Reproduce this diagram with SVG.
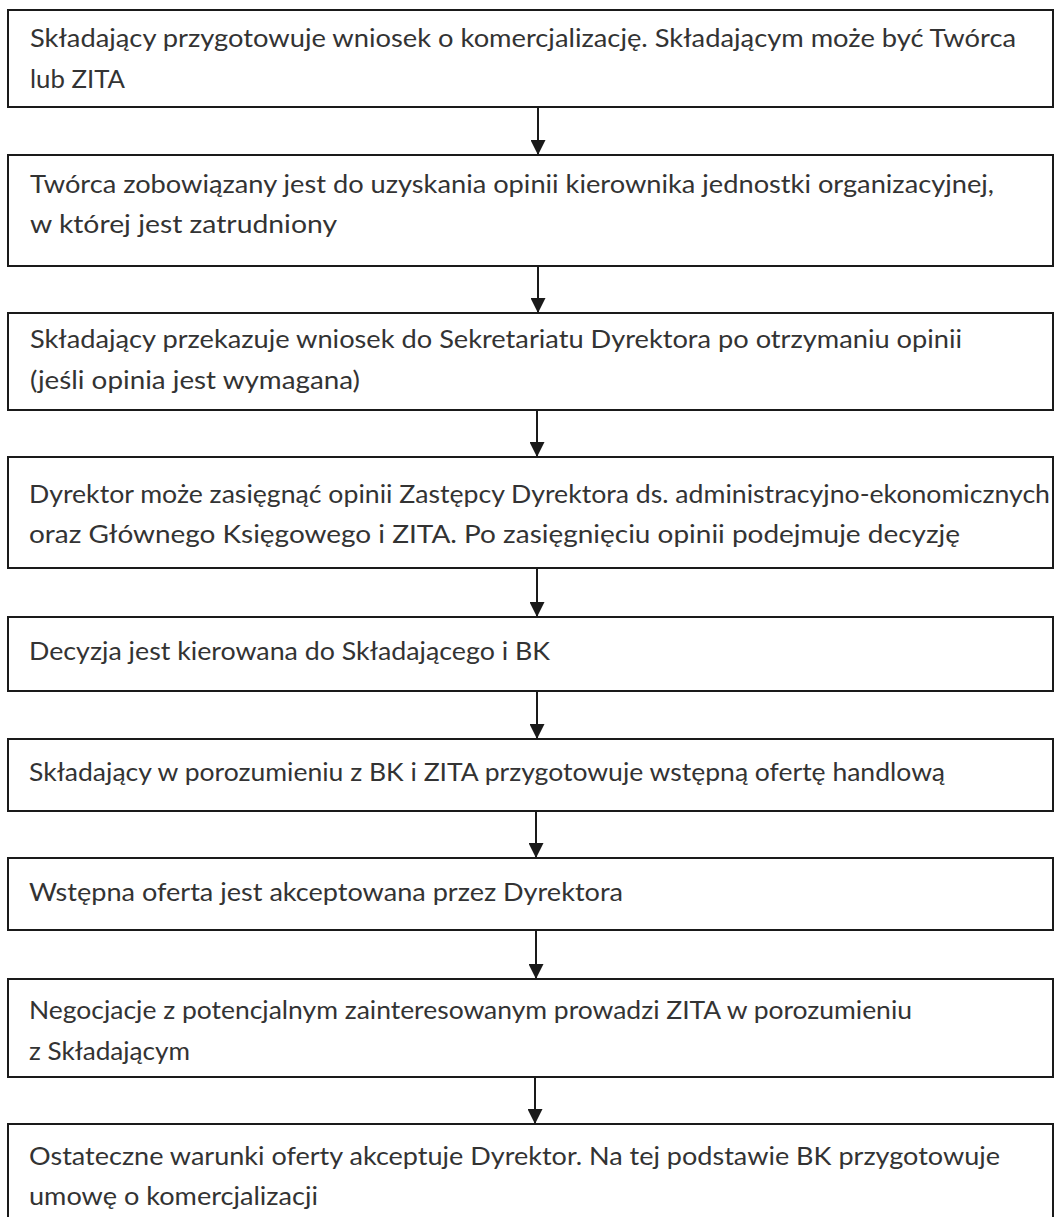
<svg xmlns="http://www.w3.org/2000/svg" width="1057" height="1217" viewBox="0 0 1057 1217">
<style>
.box{fill:#fff;stroke:#1a1a1a;stroke-width:2}
.t{font-family:Lato,"Open Sans","Liberation Sans",sans-serif;font-size:25.5px;fill:#333}
.c{stroke:#1a1a1a;stroke-width:2;fill:none}
</style>
<defs>
<marker id="ah" markerUnits="userSpaceOnUse" markerWidth="16" markerHeight="15" refX="15" refY="7.5" orient="auto">
<path d="M0,0 L15,7.5 L0,15 Z" fill="#1a1a1a"/>
</marker>
</defs>
<rect width="1057" height="1217" fill="#fff"/>
<g id="n1"><rect class="box" x="8" y="10" width="1045" height="97"/>
<text class="t" x="30" y="47" textLength="986" lengthAdjust="spacingAndGlyphs">Składający przygotowuje wniosek o komercjalizację. Składającym może być Twórca</text>
<text class="t" x="30" y="88" textLength="95" lengthAdjust="spacingAndGlyphs">lub ZITA</text></g>
<g id="n2"><rect class="box" x="8" y="155" width="1045" height="111"/>
<text class="t" x="30" y="193" textLength="964" lengthAdjust="spacingAndGlyphs">Twórca zobowiązany jest do uzyskania opinii kierownika jednostki organizacyjnej,</text>
<text class="t" x="30" y="233" textLength="307" lengthAdjust="spacingAndGlyphs">w której jest zatrudniony</text></g>
<g id="n3"><rect class="box" x="8" y="313" width="1045" height="97"/>
<text class="t" x="30" y="348" textLength="932" lengthAdjust="spacingAndGlyphs">Składający przekazuje wniosek do Sekretariatu Dyrektora po otrzymaniu opinii</text>
<text class="t" x="30" y="389" textLength="330" lengthAdjust="spacingAndGlyphs">(jeśli opinia jest wymagana)</text></g>
<g id="n4"><rect class="box" x="8" y="457" width="1045" height="111"/>
<text class="t" x="29" y="503" textLength="1021" lengthAdjust="spacingAndGlyphs">Dyrektor może zasięgnąć opinii Zastępcy Dyrektora ds. administracyjno-ekonomicznych</text>
<text class="t" x="29" y="543" textLength="931" lengthAdjust="spacingAndGlyphs">oraz Głównego Księgowego i ZITA. Po zasięgnięciu opinii podejmuje decyzję</text></g>
<g id="n5"><rect class="box" x="8" y="617" width="1045" height="74"/>
<text class="t" x="29" y="660" textLength="521" lengthAdjust="spacingAndGlyphs">Decyzja jest kierowana do Składającego i BK</text></g>
<g id="n6"><rect class="box" x="8" y="739" width="1045" height="72"/>
<text class="t" x="29" y="781" textLength="916" lengthAdjust="spacingAndGlyphs">Składający w porozumieniu z BK i ZITA przygotowuje wstępną ofertę handlową</text></g>
<g id="n7"><rect class="box" x="8" y="858" width="1045" height="72"/>
<text class="t" x="29" y="901" textLength="594" lengthAdjust="spacingAndGlyphs">Wstępna oferta jest akceptowana przez Dyrektora</text></g>
<g id="n8"><rect class="box" x="8" y="979" width="1045" height="98"/>
<text class="t" x="29" y="1019" textLength="883" lengthAdjust="spacingAndGlyphs">Negocjacje z potencjalnym zainteresowanym prowadzi ZITA w porozumieniu</text>
<text class="t" x="29" y="1060" textLength="161" lengthAdjust="spacingAndGlyphs">z Składającym</text></g>
<g id="n9"><rect class="box" x="8" y="1124" width="1045" height="110"/>
<text class="t" x="29" y="1165" textLength="971" lengthAdjust="spacingAndGlyphs">Ostateczne warunki oferty akceptuje Dyrektor. Na tej podstawie BK przygotowuje</text>
<text class="t" x="29" y="1205" textLength="289" lengthAdjust="spacingAndGlyphs">umowę o komercjalizacji</text></g>
<g id="connectors">
<line class="c" x1="538" y1="107" x2="538" y2="155" marker-end="url(#ah)"/>
<line class="c" x1="538" y1="266" x2="538" y2="313" marker-end="url(#ah)"/>
<line class="c" x1="537" y1="410" x2="537" y2="457" marker-end="url(#ah)"/>
<line class="c" x1="537" y1="568" x2="537" y2="617" marker-end="url(#ah)"/>
<line class="c" x1="537" y1="691" x2="537" y2="739" marker-end="url(#ah)"/>
<line class="c" x1="536" y1="811" x2="536" y2="858" marker-end="url(#ah)"/>
<line class="c" x1="536" y1="930" x2="536" y2="979" marker-end="url(#ah)"/>
<line class="c" x1="535" y1="1077" x2="535" y2="1124" marker-end="url(#ah)"/>
</g>
</svg>
